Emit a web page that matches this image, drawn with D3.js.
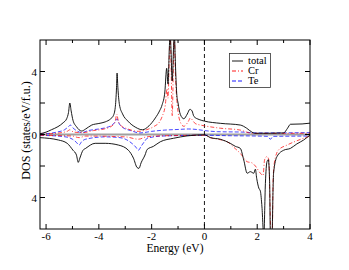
<!DOCTYPE html>
<html><head><meta charset="utf-8">
<script src="https://cdn.jsdelivr.net/npm/d3@7"></script>
<style>body{margin:0;background:#fff}svg{display:block}text{font-family:"Liberation Serif","Times New Roman",serif;fill:#000}</style>
</head><body><svg id="c" width="349" height="270"></svg>
<script>
// ---- data: [energy (eV), DOS] ----
const totalUp = [[-6.23,0.05],[-6.0,0.15],[-5.8,0.3],[-5.55,0.5],[-5.35,0.75],[-5.22,1.0],[-5.15,1.4],[-5.1,2.0],[-5.05,1.5],[-4.98,0.9],[-4.85,0.5],[-4.65,0.22],[-4.5,0.35],[-4.27,0.6],[-4.0,0.7],[-3.76,0.8],[-3.55,1.0],[-3.45,1.2],[-3.38,1.7],[-3.33,3.0],[-3.31,3.9],[-3.28,3.0],[-3.22,1.9],[-3.1,1.3],[-2.9,0.85],[-2.6,0.45],[-2.35,0.3],[-2.1,0.55],[-1.86,1.05],[-1.7,1.5],[-1.6,1.9],[-1.5,2.7],[-1.43,4.2],[-1.38,3.2],[-1.33,5.5],[-1.3,6.5],[-1.27,5.5],[-1.22,3.4],[-1.17,5.5],[-1.14,6.5],[-1.11,5.0],[-1.05,2.6],[-1.0,2.0],[-0.91,1.26],[-0.78,1.0],[-0.65,1.3],[-0.55,1.6],[-0.47,1.5],[-0.4,1.15],[-0.2,0.95],[0,0.85],[0.6,0.71],[1.36,0.6],[1.6,0.4],[1.8,0.15],[1.9,0.08],[2.5,0.08],[3.0,0.1],[3.15,0.4],[3.26,0.65],[3.7,0.67],[4.0,0.72]];
const crUp = [[-6.23,0.02],[-5.6,0.08],[-5.2,0.2],[-5.1,0.3],[-4.95,0.15],[-4.6,0.12],[-4.2,0.25],[-3.8,0.35],[-3.5,0.55],[-3.38,0.85],[-3.32,1.3],[-3.27,0.9],[-3.15,0.55],[-2.9,0.35],[-2.5,0.2],[-2.2,0.3],[-1.9,0.52],[-1.7,0.8],[-1.6,1.15],[-1.48,1.9],[-1.42,2.9],[-1.38,2.3],[-1.33,5.0],[-1.3,6.5],[-1.27,5.0],[-1.22,1.2],[-1.17,5.0],[-1.14,6.5],[-1.11,4.5],[-1.03,1.9],[-0.9,0.73],[-0.78,0.52],[-0.62,0.8],[-0.53,1.05],[-0.45,0.9],[-0.35,0.7],[-0.15,0.6],[0,0.55],[0.6,0.4],[1.36,0.28],[1.6,0.15],[1.8,0.07],[4.0,0.08]];
const teUp = [[-6.23,0.02],[-5.6,0.15],[-5.3,0.3],[-5.15,0.5],[-5.08,0.6],[-5.0,0.45],[-4.8,0.2],[-4.65,0.12],[-4.4,0.25],[-4.0,0.35],[-3.7,0.45],[-3.5,0.6],[-3.38,0.8],[-3.31,1.0],[-3.25,0.75],[-3.1,0.45],[-2.8,0.25],[-2.45,0.1],[-2.0,0.2],[-1.5,0.28],[-1.0,0.32],[-0.6,0.35],[-0.2,0.3],[0,0.25],[0.5,0.18],[1.5,0.15],[2.0,0.1],[4.0,0.12]];
const totalDn = [[-6.23,-0.2],[-5.53,-0.35],[-5.2,-0.56],[-4.98,-1.0],[-4.85,-1.3],[-4.78,-1.77],[-4.72,-1.5],[-4.6,-1.0],[-4.5,-0.88],[-4.14,-0.56],[-3.76,-0.56],[-3.26,-0.67],[-2.88,-1.0],[-2.69,-1.5],[-2.55,-2.1],[-2.48,-2.15],[-2.4,-1.8],[-2.25,-1.3],[-2.17,-0.95],[-1.93,-0.75],[-1.67,-0.46],[-1.17,-0.24],[-0.66,-0.09],[0,-0.02],[0.23,-0.2],[0.6,-0.3],[0.98,-0.56],[1.17,-0.75],[1.36,-0.88],[1.49,-1.62],[1.62,-2.46],[1.74,-2.36],[1.87,-2.46],[1.93,-2.2],[1.98,-2.78],[2.06,-3.4],[2.12,-3.6],[2.18,-4.6],[2.25,-6.5],[2.31,-3.1],[2.37,-1.73],[2.42,-1.6],[2.47,-3.0],[2.5,-6.5],[2.56,-6.5],[2.6,-3.5],[2.62,-2.46],[2.75,-1.4],[3.0,-1.0],[3.26,-0.88],[3.5,-0.6],[3.76,-0.35],[4.0,-0.03]];
const crDn = [[-6.23,-0.05],[-5.0,-0.1],[-4.75,-0.2],[-4.5,-0.1],[-3.0,-0.15],[-2.5,-0.3],[-2.2,-0.15],[-1.5,-0.08],[0,-0.05],[0.23,-0.2],[0.86,-0.46],[1.17,-0.9],[1.36,-1.2],[1.62,-1.73],[1.8,-1.8],[1.93,-2.0],[2.12,-2.46],[2.22,-2.6],[2.28,-1.6],[2.37,-1.4],[2.44,-1.6],[2.48,-4.0],[2.52,-6.5],[2.57,-6.5],[2.6,-3.0],[2.65,-1.8],[2.8,-1.0],[3.13,-0.67],[3.5,-0.4],[4.0,-0.1]];
const teDn = [[-6.23,-0.05],[-5.3,-0.14],[-5.0,-0.3],[-4.85,-0.5],[-4.75,-0.67],[-4.65,-0.45],[-4.5,-0.3],[-3.76,-0.15],[-3.2,-0.2],[-2.88,-0.4],[-2.6,-0.8],[-2.5,-1.0],[-2.4,-0.75],[-2.25,-0.4],[-2.17,-0.24],[-1.6,-0.1],[0,-0.05],[1.0,-0.08],[2.0,-0.1],[2.4,-0.12],[2.5,-0.3],[2.6,-0.12],[4.0,-0.1]];
const xTicks = [-6,-4,-2,0,2,4];
const xMinor = [-5,-3,-1,1,3];
const yTicks = [-4,-2,0,2,4];
const yLabelTicks = [-4,0,4];
const legendNames = ["total","Cr","Te"];

const W=349,H=270, L=40,R=310,T=40,B=229;
const svg=d3.select("#c");
const x=d3.scaleLinear().domain([-6.23,4]).range([L,R]);
const y=d3.scaleLinear().domain([-6,6]).range([B,T]);

svg.append("defs").append("clipPath").attr("id","clip").append("rect")
  .attr("x",L).attr("y",T).attr("width",R-L).attr("height",B-T);
const g=svg.append("g").attr("clip-path","url(#clip)");

// zero line
g.append("line").attr("x1",L).attr("x2",R).attr("y1",y(0)).attr("y2",y(0))
  .attr("stroke","#a0a0a0").attr("stroke-width",2);
// Fermi level
g.append("line").attr("x1",x(0)).attr("x2",x(0)).attr("y1",T).attr("y2",B)
  .attr("stroke","#000").attr("stroke-width",0.9).attr("stroke-dasharray","4,3");

const line=d3.line().x(d=>x(d[0])).y(d=>y(d[1])).curve(d3.curveMonotoneX);
const styles={
  total:{stroke:"#000",dash:null},
  Cr:{stroke:"#ff0000",dash:"4,2,1,2"},
  Te:{stroke:"#0000ff",dash:"4,2"}
};
[[teUp,"Te"],[teDn,"Te"],[crUp,"Cr"],[crDn,"Cr"],[totalUp,"total"],[totalDn,"total"]].forEach(([d,k])=>{
  g.append("path").datum(d).attr("d",line).attr("fill","none")
   .attr("stroke",styles[k].stroke).attr("stroke-width",0.9)
   .attr("stroke-dasharray",styles[k].dash).attr("opacity",k==="total"?1:0.8);
});

// frame
svg.append("rect").attr("x",L).attr("y",T).attr("width",R-L).attr("height",B-T)
  .attr("fill","none").attr("stroke","#000").attr("stroke-width",1);

const ax=svg.append("g").attr("stroke","#000").attr("stroke-width",1);
xTicks.forEach(v=>{
  ax.append("line").attr("x1",x(v)).attr("x2",x(v)).attr("y1",B).attr("y2",B-5);
  ax.append("line").attr("x1",x(v)).attr("x2",x(v)).attr("y1",T).attr("y2",T+5);
});
xMinor.forEach(v=>{
  ax.append("line").attr("x1",x(v)).attr("x2",x(v)).attr("y1",B).attr("y2",B-3);
  ax.append("line").attr("x1",x(v)).attr("x2",x(v)).attr("y1",T).attr("y2",T+3);
});
yTicks.forEach(v=>{
  ax.append("line").attr("x1",L).attr("x2",L+5).attr("y1",y(v)).attr("y2",y(v));
  ax.append("line").attr("x1",R).attr("x2",R-5).attr("y1",y(v)).attr("y2",y(v));
});
svg.selectAll(".xl").data(xTicks).enter().append("text")
  .attr("x",d=>x(d)).attr("y",240).attr("text-anchor","middle").attr("font-size",11)
  .text(d=>d);
svg.selectAll(".yl").data(yLabelTicks).enter().append("text")
  .attr("x",L-3).attr("y",d=>y(d)+4).attr("text-anchor","end").attr("font-size",11)
  .text(d=>Math.abs(d));
svg.append("text").attr("x",(L+R)/2).attr("y",251.5).attr("text-anchor","middle")
  .attr("font-size",11.5).text("Energy  (eV)");
svg.append("text").attr("transform",`translate(30,${(T+B)/2-4}) rotate(-90)`)
  .attr("text-anchor","middle").attr("font-size",12).text("DOS  (states/eV/f.u.)");

// legend
const lg=svg.append("g");
lg.append("rect").attr("x",229.5).attr("y",53.5).attr("width",41).attr("height",34)
  .attr("fill","#fff").attr("stroke","#333").attr("stroke-width",0.8);
legendNames.forEach((n,i)=>{
  const yy=61+i*10;
  lg.append("line").attr("x1",232).attr("x2",243).attr("y1",yy).attr("y2",yy)
    .attr("stroke",styles[n].stroke).attr("stroke-width",0.9).attr("stroke-dasharray",styles[n].dash);
  lg.append("text").attr("x",248).attr("y",yy+3.3).attr("font-size",10.5).text(n);
});
</script></body></html>
